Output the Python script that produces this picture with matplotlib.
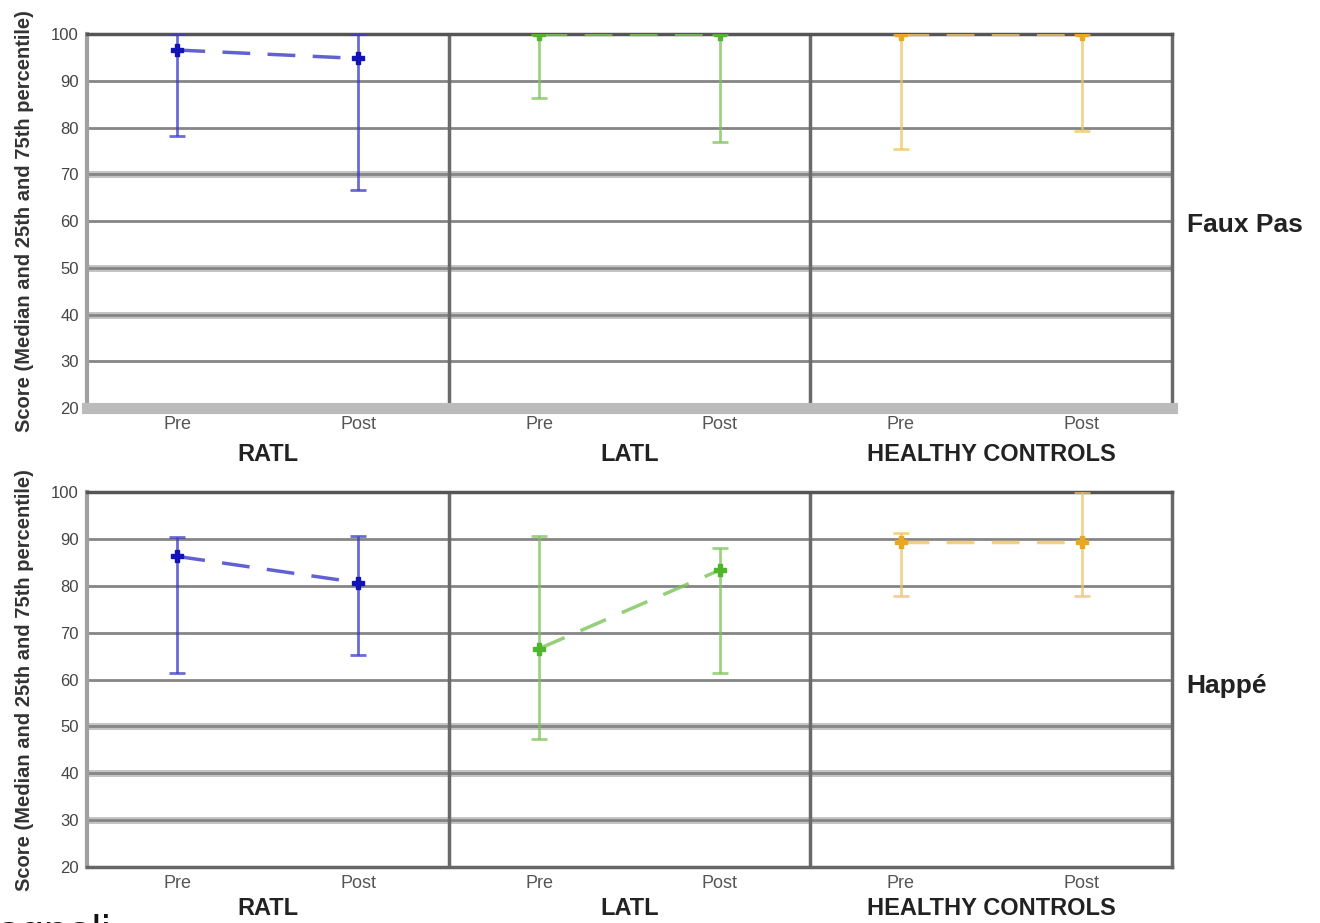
import numpy as np
import matplotlib.pyplot as plt

plt.rcParams['font.family'] = ['Liberation Sans', 'DejaVu Sans']

groups = ['RATL', 'LATL', 'HEALTHY CONTROLS']
phases = ['Pre', 'Post']
group_colors = ['#3a3ac8', '#7cc45a', '#eec46a']
marker_colors = ['#1212b8', '#4fb52a', '#e8a820']

# median, 25th and 75th percentile per group: [pre, post]
faux_median = [[96.6, 94.8], [100, 100], [100, 100]]
faux_q25 = [[78.2, 66.6], [86.4, 77.0], [75.4, 79.3]]
faux_q75 = [[100, 100], [100, 100], [100, 100]]

happe_median = [[86.3, 80.7], [66.6, 83.4], [89.4, 89.4]]
happe_q25 = [[61.5, 65.2], [47.4, 61.5], [77.9, 77.9]]
happe_q75 = [[90.5, 90.7], [90.7, 88.1], [91.2, 100]]

yticks = [20, 30, 40, 50, 60, 70, 80, 90, 100]


def draw_panel(ax, median, q25, q75, light_rows, bottom_light, label_y):
    ax.set_xlim(-0.5, 5.5)
    ax.set_ylim(20, 100)

    for y in yticks[1:-1]:
        if y in light_rows:
            ax.axhline(y, color='#c4c4c4', lw=5, zorder=1)
        ax.axhline(y, color='#858585', lw=2, zorder=1.5)
    for xd in [1.5, 3.5]:
        ax.axvline(xd, color='#6a6a6a', lw=2.5, zorder=2)

    for g in range(3):
        xs = np.array([2 * g, 2 * g + 1])
        med = np.array(median[g])
        lo = med - np.array(q25[g])
        hi = np.array(q75[g]) - med
        ax.errorbar(xs, med, yerr=[lo, hi], fmt='none', ecolor=group_colors[g],
                    elinewidth=2, capsize=6, capthick=2, alpha=0.75, zorder=3)
        ax.plot(xs, med, color=group_colors[g], lw=2.5, ls=(0, (8, 5)),
                alpha=0.8, zorder=4)
        ax.plot(xs, med, ls='none', marker='P', ms=9, color=marker_colors[g],
                mec=marker_colors[g], zorder=5)

    ax.set_yticks(yticks)
    ax.set_yticklabels([str(v) for v in yticks], fontsize=12, color='#444444')
    ax.set_xticks(range(6))
    ax.set_xticklabels(phases * 3, fontsize=13, color='#555555')
    ax.tick_params(length=0, pad=6)

    ax.spines['top'].set_color('#555555')
    ax.spines['top'].set_linewidth(2.5)
    ax.spines['right'].set_color('#6a6a6a')
    ax.spines['right'].set_linewidth(2.5)
    ax.spines['left'].set_color('#a0a0a0')
    ax.spines['left'].set_linewidth(3)
    if bottom_light:
        ax.spines['bottom'].set_color('#bbbbbb')
        ax.spines['bottom'].set_linewidth(8)
    else:
        ax.spines['bottom'].set_color('#666666')
        ax.spines['bottom'].set_linewidth(2.5)

    for g, name in enumerate(groups):
        ax.text(2 * g + 0.5, label_y, name, transform=ax.get_xaxis_transform(),
                ha='center', va='top', fontsize=17, fontweight='bold',
                color='#222222')
    ax.set_ylabel('Score (Median and 25th and 75th percentile)', fontsize=14.5,
                  fontweight='bold', color='#333333', labelpad=12)


fig = plt.figure(figsize=(13.2, 9.23), dpi=100)
ax1 = fig.add_axes([0.0659, 0.558, 0.822, 0.405])
ax2 = fig.add_axes([0.0659, 0.0607, 0.822, 0.406])

draw_panel(ax1, faux_median, faux_q25, faux_q75, [70, 50, 40], True, -0.094)
draw_panel(ax2, happe_median, happe_q25, happe_q75, [50, 40, 30], False, -0.081)

fig.text(0.899, 0.756, 'Faux Pas', fontsize=19, fontweight='bold',
         color='#222222', va='center', ha='left')
fig.text(0.899, 0.257, 'Happé', fontsize=19, fontweight='bold',
         color='#222222', va='center', ha='left')
fig.text(-0.003, -0.024, 'agnoli', fontsize=31, color='#111111',
         va='baseline', ha='left')

fig.savefig('out.png', dpi=100, facecolor='white')
